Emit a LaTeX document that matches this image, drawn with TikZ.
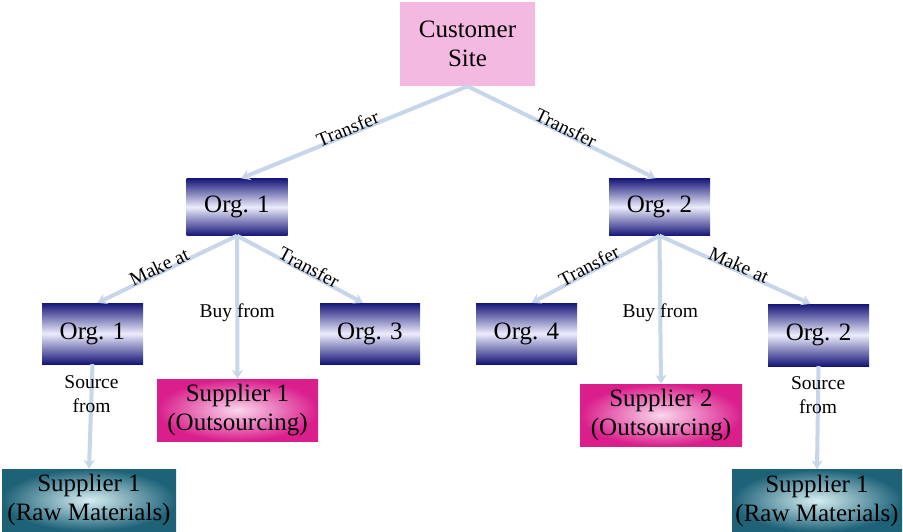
\documentclass[tikz,border=0pt]{standalone}
\usepackage{fontspec}
\setmainfont{Liberation Serif}
\usetikzlibrary{arrows.meta}
\definecolor{navy}{RGB}{22,22,120}
\definecolor{lav}{RGB}{236,236,252}
\definecolor{magedge}{RGB}{218,30,140}
\definecolor{magmid}{RGB}{250,215,238}
\definecolor{rawedge}{RGB}{30,98,120}
\definecolor{rawmid}{RGB}{215,238,242}
\definecolor{custfill}{RGB}{243,185,225}
\definecolor{linec}{RGB}{200,214,234}
\tikzset{
  boxtext/.style={align=center, inner sep=0pt, text=black,
    font=\fontsize{25}{29}\selectfont},
  org/.style={boxtext, rectangle, minimum width=101pt, minimum height=57pt,
    top color=navy, bottom color=navy, middle color=lav},
  custbox/.style={boxtext, rectangle, minimum width=135pt, minimum height=84pt,
    fill=custfill},
  outsrc/.style={boxtext, rectangle, minimum width=161pt, minimum height=62pt,
    inner color=magmid, outer color=magedge},
  rawbox/.style={boxtext, rectangle, minimum width=172pt, minimum height=62pt,
    inner color=rawmid, outer color=rawedge},
  conn/.style={draw=linec, line width=4pt, -{Stealth[length=9pt,width=11pt]}},
  lbl/.style={inner sep=0pt, text=black, align=center,
    font=\fontsize{19.5}{24}\selectfont}
}
\begin{document}
\begin{tikzpicture}[x=1pt,y=-1pt]
\useasboundingbox[fill=white] (0,0) rectangle (903,531);

% boxes
\node[custbox] (cust) at (467.5,44) {Customer\\Site};
\node[org] (o1) at (237,207) {Org. 1};
\node[org] (o2) at (659.5,207) {Org. 2};
\node[org, minimum height=61pt] (o1b) at (92.5,333.5) {Org. 1};
\node[org, minimum width=100pt, minimum height=61pt] (o3) at (370,333.5) {Org. 3};
\node[org, minimum height=61pt] (o4) at (526.5,333.5) {Org. 4};
\node[org, minimum height=62pt] (o2b) at (818.5,335) {Org. 2};
\node[outsrc] (s1) at (237.5,410) {Supplier 1\\(Outsourcing)};
\node[outsrc, minimum width=162pt] (s2) at (661,415) {Supplier 2\\(Outsourcing)};
\node[rawbox, minimum width=174pt] (r1) at (89,500) {Supplier 1\\(Raw Materials)};
\node[rawbox, minimum width=170pt] (r2) at (817,500.5) {Supplier 1\\(Raw Materials)};

% connectors
\draw[conn] (cust.south) -- ([xshift=4pt]o1.north)
  node[lbl, pos=0.52, sloped, above=-3pt] {Transfer};
\draw[conn] (cust.south) -- ([xshift=-4pt]o2.north)
  node[lbl, pos=0.51, sloped, above=-3pt] {Transfer};

\draw[conn] (o1.south) -- ([xshift=5pt]o1b.north)
  node[lbl, pos=0.54, sloped, above=-3pt] {Make at};
\draw[conn] (o1.south) -- (s1.north)
  node[lbl, pos=0.535] {Buy from};
\draw[conn] (o1.south) -- ([xshift=-7pt]o3.north)
  node[lbl, pos=0.55, sloped, above=-3pt] {Transfer};

\draw[conn] (o2.south) -- ([xshift=5pt]o4.north)
  node[lbl, pos=0.53, sloped, above=-3pt] {Transfer};
\draw[conn] (o2.south) -- (s2.north)
  node[lbl, pos=0.517] {Buy from};
\draw[conn] (o2.south) -- ([xshift=-8pt]o2b.north)
  node[lbl, pos=0.51, sloped, above=-3pt] {Make at};

\draw[conn] (o1b.south) -- (r1.north)
  node[lbl, pos=0.29] {Source\\from};
\draw[conn] (o2b.south) -- (r2.north)
  node[lbl, pos=0.28] {Source\\from};
\end{tikzpicture}
\end{document}
